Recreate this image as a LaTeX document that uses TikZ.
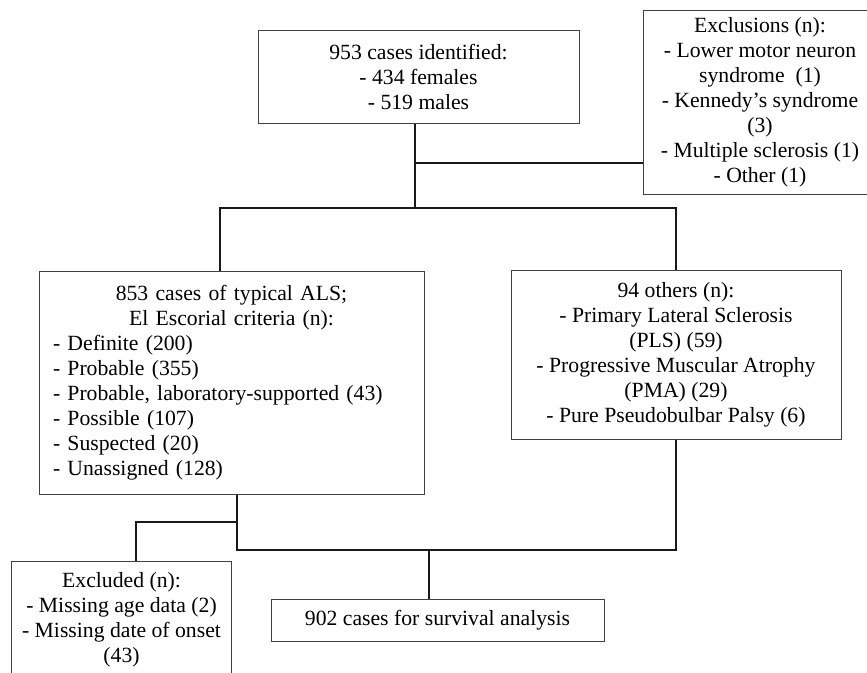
\documentclass[tikz,border=0pt]{standalone}
\usepackage{fontspec}
\setmainfont{Liberation Serif}
\begin{document}
\begin{tikzpicture}[
    x=1pt, y=-1pt,
    font=\fontsize{21.7}{25}\selectfont,
    box/.style={rectangle, draw=black!75, line width=1pt, align=center, inner sep=0pt},
    listbox/.style={rectangle, draw=black!75, line width=1pt, align=left, inner sep=0pt},
    line/.style={draw=black!90, line width=2pt}
]
    \clip (0,0) rectangle (867,672);

    % Identified
    \node (ident) [box, minimum width=321pt, minimum height=93pt] at (418.5,76.5) {953 cases identified:\\ - 434 females\\ - 519 males};

    % Exclusions
    \node (excl) [box, minimum width=234pt, minimum height=184pt] at (760,102) {Exclusions (n):\\ - Lower motor neuron\\ syndrome~ (1)\\ - Kennedy’s syndrome\\ (3)\\ - Multiple sclerosis (1)\\ - Other (1)};

    % Typical ALS
    \node (als) [listbox, text width=357pt, minimum width=385pt, minimum height=223pt] at (231.5,382.5) {%
        \hspace*{\fill}853 cases of typical ALS;\hspace*{\fill}\null\\
        \hspace*{\fill}El Escorial criteria (n):\hspace*{\fill}\null\\
        - Definite (200)\\
        - Probable (355)\\
        - Probable, laboratory-supported (43)\\
        - Possible (107)\\
        - Suspected (20)\\
        - Unassigned (128)};

    % Others
    \node (others) [box, minimum width=330pt, minimum height=169pt] at (676,354.5) {94 others (n):\\ - Primary Lateral Sclerosis\\ (PLS) (59)\\ - Progressive Muscular Atrophy\\ (PMA) (29)\\ - Pure Pseudobulbar Palsy (6)};

    % Excluded
    \node (excluded) [box, minimum width=220pt, minimum height=117pt] at (121.5,619.5) {Excluded (n):\\ - Missing age data (2)\\ - Missing date of onset\\ (43)};

    % Survival analysis
    \node (final) [box, minimum width=333pt, minimum height=42pt] at (437.5,620) {902 cases for survival analysis};

    % Junctions
    \coordinate (exclj) at (415,163);
    \coordinate (split) at (415,208);
    \coordinate (drop) at (237,522);
    \coordinate (merge) at (429,550);

    % Lines
    \draw [line] ([xshift=-3.5pt]ident.south) -- (split);
    \draw [line] (exclj) -- (exclj -| excl.west);
    \draw [line] ([xshift=-11.5pt]als.north) |- (split) -| (others.north);

    \draw [line] ([xshift=5.5pt]als.south) |- (merge) -| (others.south);
    \draw [line] (drop) -| ([xshift=14.5pt]excluded.north);
    \draw [line] (merge) -- (merge |- final.north);

\end{tikzpicture}
\end{document}
